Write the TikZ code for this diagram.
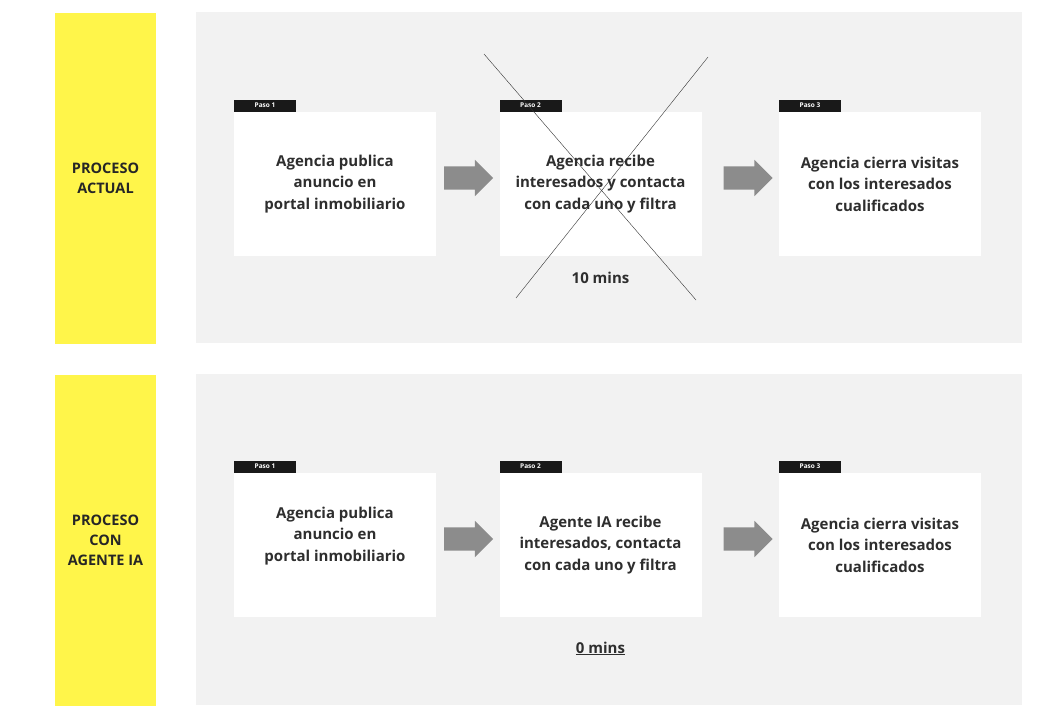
\documentclass[tikz,border=0pt]{standalone}
\usepackage{fontspec}
\setmainfont{Open Sans}
\usetikzlibrary{positioning, calc, shapes.arrows}
\definecolor{barYellow}{HTML}{FFF54A}
\definecolor{laneGray}{HTML}{F2F2F2}
\definecolor{arrowGray}{HTML}{8C8C8C}
\definecolor{textDark}{HTML}{2E2E2E}
\begin{document}
\begin{tikzpicture}[x=1pt,y=-1pt]
		\tikzstyle{sidebar} = [fill=barYellow, draw=none, minimum width=101pt, minimum height=331pt, inner sep=0, align=center, font=\bfseries\fontsize{14.5}{20}\selectfont, text=black!85]
		\tikzstyle{lane} = [fill=laneGray, draw=none, minimum width=826pt, minimum height=331pt, inner sep=0]
		\tikzstyle{box} = [fill=white, draw=none, minimum width=202pt, minimum height=144pt, inner sep=0, align=center, text=textDark, font=\bfseries\fontsize{15}{21.5}\selectfont]
		\tikzstyle{tag} = [fill=black!90, draw=none, minimum width=62pt, minimum height=12pt, inner sep=0, text=white, font=\bfseries\fontsize{6.5}{6.5}\selectfont]
		\tikzstyle{flow} = [single arrow, fill=arrowGray, draw=none, minimum height=49pt, inner sep=0, inner ysep=11.5pt, single arrow head extend=6.5pt, single arrow head indent=0pt, shape border rotate=0]
		\tikzstyle{timing} = [text=textDark, font=\bfseries\fontsize{15}{18}\selectfont]
		\useasboundingbox (0,0) rectangle (1055,720);
		\fill [white] (0,0) rectangle (1055,720);
		% row 1: proceso actual
		\node [sidebar] (s1) at (105.5,178.5) {PROCESO\\ACTUAL};
		\node [lane] (l1) at (609,177.5) {};
		\node [box] (v1) at (335,184) {Agencia publica\\anuncio en\\portal inmobiliario};
		\node [box] (v2) at (600.5,184) {Agencia recibe\\interesados y contacta\\con cada uno y filtra};
		\node [box] (v3) at (880,184) {Agencia cierra visitas\\con los interesados\\cualificados};
		\node [tag, above right=0pt and 0pt of v1.north west] (t1) {Paso 1};
		\node [tag, above right=0pt and 0pt of v2.north west] (t2) {Paso 2};
		\node [tag, above right=0pt and 0pt of v3.north west] (t3) {Paso 3};
		\node [flow] (a1) at ($(v1.east)!0.5!(v2.west)+(-5,-6)$) {};
		\node [flow] (a2) at ($(v2.east)!0.5!(v3.west)+(2,-6)$) {};
		\node [timing, below=12pt of v2] (m1) {10 mins};
		\draw [thin, black!80] (484,54) -- (696,300);
		\draw [thin, black!80] (708,57) -- (516,298);
		% row 2: proceso con agente ia
		\node [sidebar] (s2) at (105.5,540) {PROCESO\\CON\\AGENTE IA};
		\node [lane] (l2) at (609,539) {};
		\node [box] (w1) at (335,545) {Agencia publica\\anuncio en\\portal inmobiliario\\\mbox{}};
		\node [box] (w2) at (600.5,545) {Agente IA recibe\\interesados, contacta\\con cada uno y filtra};
		\node [box] (w3) at (880,545) {Agencia cierra visitas\\con los interesados\\cualificados};
		\node [tag, above right=0pt and 0pt of w1.north west] (u1) {Paso 1};
		\node [tag, above right=0pt and 0pt of w2.north west] (u2) {Paso 2};
		\node [tag, above right=0pt and 0pt of w3.north west] (u3) {Paso 3};
		\node [flow] (b1) at ($(w1.east)!0.5!(w2.west)+(-5,-6)$) {};
		\node [flow] (b2) at ($(w2.east)!0.5!(w3.west)+(2,-6)$) {};
		\node [timing, below=21pt of w2] (m2) {\underline{0 mins}};
\end{tikzpicture}
\end{document}
